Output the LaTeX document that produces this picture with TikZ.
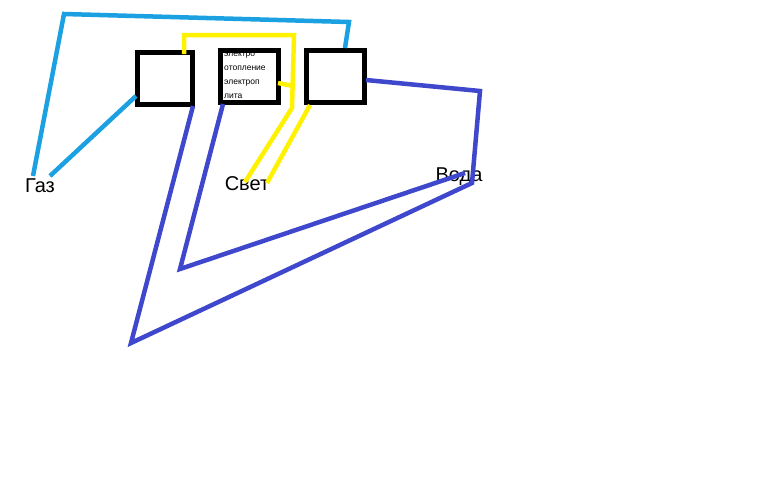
\documentclass[tikz,border=0pt]{standalone}
\usepackage{fontspec}
\setmainfont{Liberation Sans}
\begin{document}
\begin{tikzpicture}[x=1pt,y=-1pt,
  gas/.style={draw={rgb,255:red,27;green,161;blue,226},line width=4.5pt},
  water/.style={draw={rgb,255:red,63;green,72;blue,204},line width=4.5pt},
  light/.style={draw={rgb,255:red,255;green,242;blue,0},line width=4.5pt},
  boxst/.style={draw=black,line width=5pt,minimum width=55pt,minimum height=52pt,inner sep=0pt},
  lbl/.style={font=\fontsize{20}{20}\selectfont,inner sep=0pt}]
\fill[white] (0,0) rectangle (768,480);
\useasboundingbox (0,0) rectangle (768,480);
\node[boxst] (b1) at (165,78) {};
\node[boxst,minimum width=58pt] (b2) at (249.5,76) {};
\node[boxst,minimum width=58pt] (b3) at (335.5,76) {};
\node[align=left,font=\fontsize{8.5}{14}\selectfont,inner sep=0pt,anchor=north west] (t) at (224,52) {электро\\отопление\\электроп\\лита};
\node[lbl] (gaz) at (40,186) {Газ};
\node[lbl] (svet) at (247,184) {Свет};
\node[lbl] (voda) at (459,177) {Вода};
\coordinate (g1) at (64,14);
\coordinate (g2) at (349,22);
\draw[gas] (33,176) -- (g1) -- (g2) -- (345,48);
\draw[gas] (50,176) -- (136,96);
\coordinate (y1) at (184,35);
\coordinate (y2) at (294,35);
\coordinate (y3) at (292,108);
\draw[light] (184,54) -- (y1) -- (y2) -- (y3) -- (245,182);
\draw[light] (278,83) -- (293,86);
\draw[light] (310,105) -- (267,183);
\coordinate (w1) at (480,91);
\coordinate (w2) at (472,183);
\coordinate (w3) at (131,343);
\coordinate (w4) at (180,269);
\draw[water] (366,80) -- (w1) -- (w2) -- (w3) -- (193,106);
\draw[water] (465,173) -- (w4) -- (223,104);
\end{tikzpicture}
\end{document}
